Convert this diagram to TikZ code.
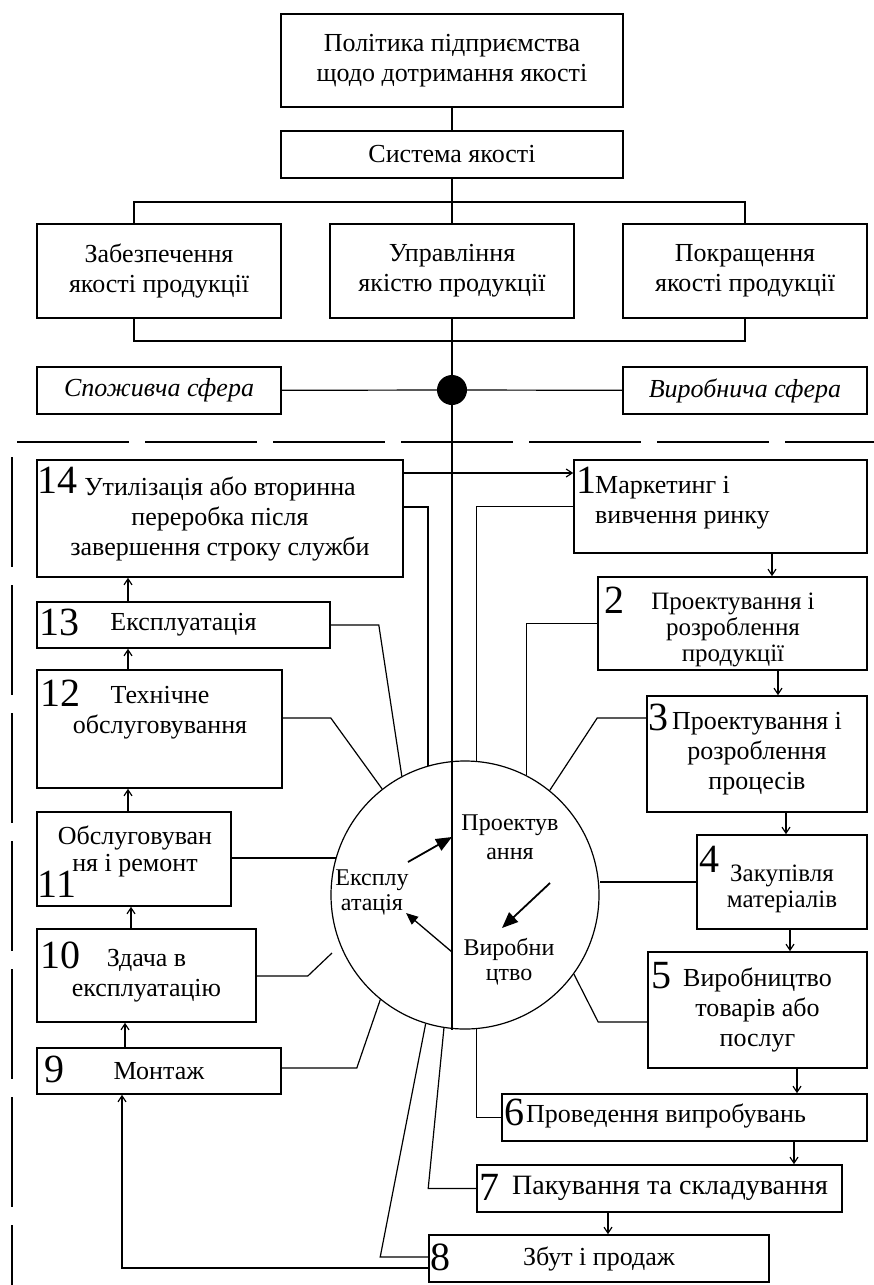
\documentclass[tikz,border=0pt]{standalone}
\usepackage{fontspec}
\setmainfont{Liberation Serif}
\usetikzlibrary{arrows.meta}
\tikzset{
  box/.style={draw, line width=1.6pt, inner sep=0pt, align=center,
    font=\fontsize{26}{30}\selectfont},
  txt/.style={inner sep=0pt, align=center, font=\fontsize{26}{30}\selectfont},
  num/.style={inner sep=0pt, font=\fontsize{40}{40}\selectfont},
  link/.style={line width=1.2pt},
  arr/.style={line width=1.2pt, -{Straight Barb[length=6pt,width=8pt]}},
  flow/.style={line width=1.8pt, -{Triangle[length=16pt,width=13pt]}},
}
\begin{document}
\begin{tikzpicture}[x=1pt, y=-1pt]
  \useasboundingbox (0,0) rectangle (874,1285);
  % top part
  \node[box, minimum width=342pt, minimum height=93pt] (pol) at (452,60.5) {Політика підприємства\\щодо дотримання якості};
  \node[box, minimum width=342pt, minimum height=47pt] (sys) at (452,154.5) {Система якості};
  \node[box, minimum width=244pt, minimum height=94pt] (zab) at (159,271) {Забезпечення\\якості продукції};
  \node[box, minimum width=244pt, minimum height=94pt] (upr) at (452,271) {Управління\\якістю продукції};
  \node[box, minimum width=244pt, minimum height=94pt] (pok) at (745,271) {Покращення\\якості продукції};
  \node[box, minimum width=244pt, minimum height=47pt] (spo) at (159,390.5) {\itshape Споживча сфера};
  \node[box, minimum width=244pt, minimum height=47pt] (vyr) at (745,390.5) {\itshape Виробнича сфера};
  \node[fill, circle, minimum size=30pt, inner sep=0pt] (dot) at (452,390) {};
  \node[draw, circle, line width=1.2pt, minimum size=268pt, inner sep=0pt] (cyc) at (465,895) {};
  \coordinate (split) at (452,202);
  \coordinate (merge) at (452,341);
  \begin{scope}[link]
    \draw (pol) -- (sys);
    \draw (sys) -- (upr);
    \draw (zab.north -| 134,0) |- (split) -| (pok.north);
    \draw (zab.south -| 134,0) |- (merge) -| (pok.south);
    \draw (upr.south) -- (upr.south |- cyc.south);
    \draw (spo) -- (dot);
    \draw (dot) -- (vyr);
  \end{scope}
  \draw[line width=1.5pt, dash pattern=on 112pt off 16pt] (17,442) -- (874,442);
  \draw[line width=1.5pt, dash pattern=on 110pt off 18pt] (12,457) -- (12,1285);
  % cycle
  \node[txt, font=\fontsize{24}{29}\selectfont] (proj) at (510,837) {Проектув\\ання};
  \node[txt, font=\fontsize{24}{25}\selectfont] (expl) at (372,892) {Експлу\\атація};
  \node[txt, font=\fontsize{24}{25}\selectfont] (prod) at (509,962) {Виробни\\цтво};
  \coordinate (up1) at (408,862);
  \coordinate (up2) at (452,837);
  \coordinate (dn1) at (550,883);
  \coordinate (dn2) at (502,928);
  \coordinate (bk1) at (452,952);
  \coordinate (bk2) at (406,913);
  \draw[flow] (up1) -- (up2);
  \draw[flow] (dn1) -- (dn2);
  \draw[line width=1.3pt, -{Triangle[length=12pt,width=10pt]}] (bk1) -- (bk2);
  % left column
  \node[box, minimum width=366pt, minimum height=117pt] (b14) at (220,518.5) {Утилізація або вторинна\\переробка після\\завершення строку служби};
  \node[box, minimum width=293pt, minimum height=46pt] (b13) at (183.5,625) {Експлуатація};
  \node[box, minimum width=245pt, minimum height=118pt] (b12) at (159.5,729) {};
  \node[box, minimum width=194pt, minimum height=94pt] (b11) at (134,859) {};
  \node[box, minimum width=219pt, minimum height=93pt] (b10) at (146.5,975.5) {Здача в\\експлуатацію};
  \node[box, minimum width=244pt, minimum height=46pt] (b9) at (159,1071) {Монтаж};
  \node[txt] (t12) at (160,713) {Технічне\\обслуговування};
  \node[txt, font=\fontsize{26}{27}\selectfont] (t11) at (135,851) {Обслуговуван\\ня і ремонт};
  \node[num] (n14) at (57,480) {14};
  \node[num] (n13) at (59,622) {13};
  \node[num] (n12) at (60,693) {12};
  \node[num] (n11) at (57,884) {11};
  \node[num] (n10) at (60,955) {10};
  \node[num] (n9) at (54,1069) {9};
  % right column
  \node[box, minimum width=293pt, minimum height=93pt] (b1) at (720.5,506.5) {};
  \node[box, minimum width=269pt, minimum height=93pt] (b2) at (732.5,623.5) {};
  \node[box, minimum width=220pt, minimum height=116pt] (b3) at (757,754) {Проектування і\\розроблення\\процесів};
  \node[box, minimum width=170pt, minimum height=94pt] (b4) at (782,882) {};
  \node[box, minimum width=219pt, minimum height=116pt] (b5) at (757.5,1010) {Виробництво\\товарів або\\послуг};
  \node[box, minimum width=365pt, minimum height=47pt] (b6) at (684.5,1117.5) {};
  \node[box, minimum width=365pt, minimum height=47pt] (b7) at (659.5,1188.5) {};
  \node[box, minimum width=340pt, minimum height=47pt] (b8) at (599,1258.5) {Збут і продаж};
  \node[txt, align=left, anchor=west] (t1) at (595,503) {Маркетинг і\\вивчення ринку};
  \node[txt, font=\fontsize{25}{26}\selectfont] (t2) at (733,630) {Проектування і\\розроблення\\продукції};
  \node[txt, font=\fontsize{25}{26}\selectfont] (t4) at (782,889) {Закупівля\\матеріалів};
  \node[txt, anchor=west] (t6) at (526,1116) {Проведення випробувань};
  \node[txt, font=\fontsize{28}{30}\selectfont] (t7) at (670,1188) {Пакування та складування};
  \node[num] (n1) at (586,480) {1};
  \node[num] (n2) at (614,600) {2};
  \node[num] (n3) at (658,717) {3};
  \node[num] (n4) at (709,859) {4};
  \node[num] (n5) at (661,976) {5};
  \node[num] (n6) at (514,1112) {6};
  \node[num] (n7) at (489,1187) {7};
  \node[num] (n8) at (440,1257) {8};
  \coordinate (e10) at (332,953);
  \begin{scope}[link]
    \draw (b14.east |- 0,507) -| (cyc.106.5);
    \draw (b13.east) -- ++(48,0) -- (cyc.118.5);
    \draw (b12.east |- 0,718) -- ++(48,0) -- (cyc.128.5);
    \draw (b11.east |- cyc.164) -- (cyc.164);
    \draw (b10.east |- 0,976) -- ++(51,0) -- (e10);
    \draw (b9.east |- 0,1068) -- ++(75,0) -- (cyc.231.3);
    \draw (b8.west |- 0,1257) -- ++(-48,0) -- (cyc.253.3);
    \draw (b7.west) -- ++(-48,0) -- (cyc.261.8);
    \draw (b6.west) -| (cyc.275);
    \draw (b5.west |- 0,1022) -- ++(-49,0) -- (cyc.-36);
    \draw (b4.west) -- (cyc.east |- b4.west);
    \draw (b3.west |- 0,718) -- ++(-49,0) -- (cyc.51);
    \draw (b2.west) -| (cyc.63.4);
    \draw (b1.west) -| (cyc.85);
  \end{scope}
  \draw[arr] (b14.east |- 0,473) -- (b1.west |- 0,473);
  \draw[arr] (b1.south -| 772,0) -- (b2.north -| 772,0);
  \draw[arr] (b2.south -| 778,0) -- (b3.north -| 778,0);
  \draw[arr] (b3.south -| 786,0) -- (b4.north -| 786,0);
  \draw[arr] (b4.south -| 790,0) -- (b5.north -| 790,0);
  \draw[arr] (b5.south -| 797,0) -- (b6.north -| 797,0);
  \draw[arr] (b6.south -| 794,0) -- (b7.north -| 794,0);
  \draw[arr] (b7.south -| 608,0) -- (b8.north -| 608,0);
  \draw[arr] (b8.west |- 0,1268) -| (b9.south -| 122,0);
  \draw[arr] (b9.north -| 125,0) -- (b10.south -| 125,0);
  \draw[arr] (b10.north -| 131,0) -- (b11.south -| 131,0);
  \draw[arr] (b11.north -| 128,0) -- (b12.south -| 128,0);
  \draw[arr] (b12.north -| 128,0) -- (b13.south -| 128,0);
  \draw[arr] (b13.north -| 128,0) -- (b14.south -| 128,0);
\end{tikzpicture}
\end{document}
